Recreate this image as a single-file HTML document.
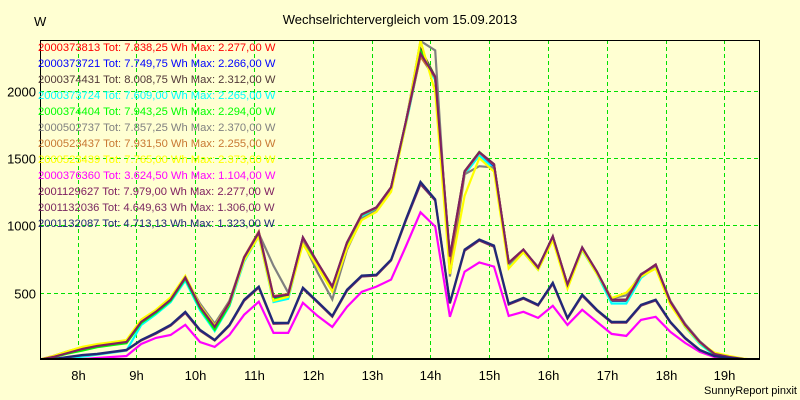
<!DOCTYPE html>
<html><head><meta charset="utf-8"><style>
body{margin:0;background:#ffffd2;}
svg{display:block;font-family:"Liberation Sans",sans-serif;}
</style></head><body>
<svg id="chart" width="800" height="400" viewBox="0 0 800 400">
<rect x="0" y="0" width="800" height="400" fill="#ffffd2"/>
<text x="400" y="24" font-size="13" text-anchor="middle" fill="#000">Wechselrichtervergleich vom 15.09.2013</text>
<text x="34" y="26" font-size="13" fill="#000">W</text>
<text x="797" y="394" font-size="11" text-anchor="end" fill="#000">SunnyReport pinxit</text>
<g id="grid"></g>
<g id="series"></g>
<g id="axes"></g>
<g id="legend"></g>
</svg>
<script>
const minutes=[440,455,470,485,500,515,530,545,560,575,590,605,620,635,650,665,680,695,710,725,740,755,770,785,800,815,830,845,860,875,890,905,920,935,950,965,980,995,1010,1025,1040,1055,1070,1085,1100,1115,1130,1145,1160,1175];
const xTickHours=[8,9,10,11,12,13,14,15,16,17,18,19];
const xTickLabels=["8h","9h","10h","11h","12h","13h","14h","15h","16h","17h","18h","19h"];
const yTicks=[500,1000,1500,2000];
const seriesNames=["2000373813","2000373721","2000374431","2000373724","2000374404","2000502737","2000523437","2000523439","2000376360","2001129627","2001132036","2001132087"];
const seriesTotals=["7.838,25","7.749,75","8.008,75","7.609,00","7.943,25","7.857,25","7.931,50","7.765,00","3.624,50","7.979,00","4.649,63","4.713,13"];
const seriesMax=["2.277,00","2.266,00","2.312,00","2.265,00","2.294,00","2.370,00","2.255,00","2.373,00","1.104,00","2.277,00","1.306,00","1.323,00"];
const seriesColors=["#ff0000","#0000ff","#503838","#00ffff","#00ff00","#808080","#c87832","#ffff00","#ff00ff","#802060","#7a2a62","#202878"];
const s0=[0,22,55,85,104,119,140,290,360,450,600,390,240,420,750,935,460,480,900,715,540,860,1075,1130,1280,1760,2277,2100,740,1400,1540,1450,715,815,690,910,555,830,650,440,440,630,700,430,255,130,42,20,6,0];
const s1=[0,20,50,80,100,115,130,280,350,440,600,385,235,415,745,930,455,475,895,710,535,860,1070,1125,1275,1755,2266,2095,730,1395,1530,1440,710,810,680,905,550,825,650,440,440,625,700,425,250,128,40,18,5,0];
const s2=[0,22,52,82,104,119,134,283,358,448,612,395,246,425,761,947,470,485,910,723,545,873,1082,1134,1283,1768,2312,2104,768,1402,1544,1455,723,820,686,918,560,835,656,448,448,634,709,433,261,134,45,22,7,0];
const s3=[0,5,15,25,40,55,70,260,340,430,590,370,215,400,730,920,430,455,880,700,520,840,1060,1120,1265,1745,2265,2080,720,1380,1520,1420,700,800,670,895,540,815,640,420,420,610,690,420,245,120,35,15,5,0];
const s4=[0,20,48,70,95,110,125,275,350,440,605,385,225,410,750,940,450,470,900,715,535,865,1078,1130,1280,1765,2294,2100,730,1400,1545,1450,715,815,685,915,555,830,650,445,445,630,705,430,255,130,40,18,6,0];
const s5=[0,25,60,90,110,125,140,290,365,455,610,420,270,440,760,940,700,500,880,650,450,820,1050,1110,1260,1760,2370,2300,620,1380,1440,1430,710,815,690,910,560,835,650,460,480,640,700,440,270,140,45,20,6,0];
const s6=[0,30,65,95,115,130,145,295,370,460,620,400,250,430,765,955,475,490,905,720,540,870,1080,1130,1280,1765,2255,2095,700,1395,1540,1450,720,815,685,915,555,830,655,445,445,630,705,430,258,132,44,20,6,0];
const s7=[0,28,65,98,118,132,148,300,372,465,625,405,255,420,740,920,440,470,860,690,510,830,1040,1100,1250,1750,2373,1990,640,1220,1500,1400,680,800,670,890,530,820,640,460,500,620,680,410,250,130,55,30,10,0];
const s8=[0,0,7,7,15,22,30,119,164,186,261,134,97,186,336,433,201,201,425,328,246,395,507,545,597,843,1097,992,321,656,724,694,328,358,313,403,261,373,283,194,179,298,321,209,127,60,22,7,0,0];
const s9=[0,22,52,82,104,119,134,283,358,448,612,395,246,425,761,947,470,485,910,723,545,873,1082,1134,1283,1768,2277,2104,768,1402,1544,1455,723,820,686,918,560,835,656,448,448,634,709,433,261,134,45,22,7,0];
const s10=[0,7,20,35,43,58,72,145,196,255,350,218,145,255,440,538,270,272,530,428,322,515,620,628,740,1035,1306,1185,420,812,888,842,412,456,405,566,308,478,368,278,278,404,442,278,160,72,28,14,6,0];
const s11=[0,7,22,37,45,60,75,149,201,261,358,224,149,261,448,545,276,276,537,433,328,522,627,634,746,1044,1323,1194,425,821,895,850,418,462,410,574,313,485,373,283,283,410,448,283,164,75,30,15,7,0];
const allSeries=[s0,s1,s2,s3,s4,s5,s6,s7,s8,s9,s10,s11];

const NS="http://www.w3.org/2000/svg";
const L=40,R=759,T=40,B=359;
function xMin(m){return 77.5+(m-480)/60*58.8;}
function xHour(h){return xMin(h*60);}
function yVal(v){return 360-v*(67.3/500);}
function mk(tag,attrs,parent){const e=document.createElementNS(NS,tag);for(const k in attrs)e.setAttribute(k,attrs[k]);parent.appendChild(e);return e;}

const grid=document.getElementById('grid');
xTickHours.forEach((h,i)=>{
  const x=Math.round(xHour(h))+0.5;
  const l=mk('line',{x1:x,y1:T,x2:x,y2:B,stroke:'#00e000','stroke-dasharray':'4,3','stroke-width':1},grid);
  
  
  const t=mk('text',{x:x,y:380,'font-size':13,'text-anchor':'middle',fill:'#000'},grid);
  t.textContent=xTickLabels[i];
  
  
});
yTicks.forEach(v=>{
  const y=Math.round(yVal(v))+0.5;
  const l=mk('line',{x1:L,y1:y,x2:R,y2:y,stroke:'#00e000','stroke-dasharray':'4,3','stroke-width':1},grid);
  
  
  const t=mk('text',{x:36,y:y+5,'font-size':13,'text-anchor':'end',fill:'#000'},grid);
  t.textContent=v;
  
  
});

const sg=document.getElementById('series');
mk('clipPath',{id:'clip'},sg).appendChild(Object.assign(document.createElementNS(NS,'rect'),{}));
document.querySelector('#clip rect').setAttribute('x',L);
document.querySelector('#clip rect').setAttribute('y',T);
document.querySelector('#clip rect').setAttribute('width',R-L);
document.querySelector('#clip rect').setAttribute('height',B-T+1);
allSeries.forEach((d,i)=>{
  const pts=d.map((v,j)=>xMin(minutes[j]).toFixed(1)+','+yVal(v).toFixed(1)).join(' ');
  const p=mk('polyline',{points:pts,fill:'none',stroke:seriesColors[i],'stroke-width':2.2,'stroke-linejoin':'miter','clip-path':'url(#clip)'},sg);
  
  
});

const ax=document.getElementById('axes');
const box=mk('rect',{x:L+0.5,y:T+0.5,width:R-L,height:B-T,fill:'none',stroke:'#000','stroke-width':1},ax);


const bl=mk('line',{x1:L,y1:B,x2:R+1,y2:B,stroke:'#000','stroke-width':2},ax);



const lg=document.getElementById('legend');
seriesNames.forEach((n,i)=>{
  const t=mk('text',{x:38,y:51+i*16,'font-size':11.2,fill:seriesColors[i]},lg);
  t.textContent=n+' Tot: '+seriesTotals[i]+' Wh Max: '+seriesMax[i]+' W';
  
  
});
</script>
</body></html>
